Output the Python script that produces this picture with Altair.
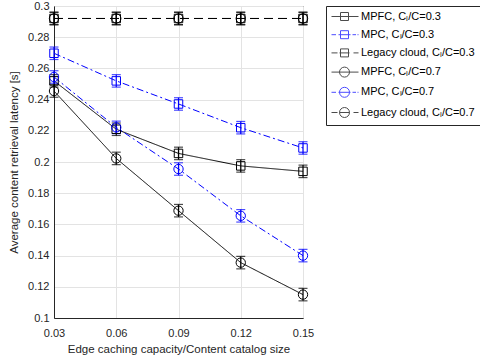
import altair as alt
import pandas as pd

x_vals = [0.03, 0.06, 0.09, 0.12, 0.15]
y_ticks = [0.1, 0.12, 0.14, 0.16, 0.18, 0.2, 0.22, 0.24, 0.26, 0.28, 0.3]
series_names = [
    "MPFC, C\u2097/C=0.3",
    "MPC, C\u2097/C=0.3",
    "Legacy cloud, C\u2097/C=0.3",
    "MPFC, C\u2097/C=0.7",
    "MPC, C\u2097/C=0.7",
    "Legacy cloud, C\u2097/C=0.7",
]
mpfc_03 = [0.252, 0.221, 0.2055, 0.1975, 0.194]
mpc_03 = [0.2697, 0.252, 0.2372, 0.222, 0.209]
legacy_03 = [0.292, 0.292, 0.292, 0.292, 0.292]
mpfc_07 = [0.2455, 0.2023, 0.1688, 0.1355, 0.115]
mpc_07 = [0.2545, 0.2222, 0.1955, 0.1655, 0.140]
legacy_07 = [0.292, 0.292, 0.292, 0.292, 0.292]
series_values = [mpfc_03, mpc_03, legacy_03, mpfc_07, mpc_07, legacy_07]
err_half = [0.004, 0.004, 0.004, 0.004, 0.004, 0.004]

colors = ["#000000", "#0000ff", "#000000", "#000000", "#0000ff", "#000000"]
markers = ["square", "square", "square", "circle", "circle", "circle"]
marker_sizes = [72, 72, 72, 87, 87, 87]
line_styles = ["solid", "dashdot", "dashed", "solid", "dashdot", "dashed"]
style_names = ["solid", "dashdot", "dashed"]
style_dashes = [[1, 0], [7, 3, 2, 3], [9, 5]]

sq = "M0.8,-0.8H2.4V0.8H0.8Z"
ci = "M0.6,0A1,1,0,1,0,2.6,0A1,1,0,1,0,0.6,0Z"
solid = "M-1,0H4.4"
dashdot = "M-1,0H-0.1M0.4,0H2.8M3.2,0H3.9M4.2,0H4.4"
dashed = "M-1,0H0.2M0.6,0H2.6M3.4,0H4.4"
legend_paths = [solid + sq, dashdot + sq, dashed + sq, solid + ci, dashdot + ci, dashed + ci]

rows = []
for name, vals, e, c, m, ms, ls in zip(series_names, series_values, err_half, colors,
                                       markers, marker_sizes, line_styles):
    for xv, yv in zip(x_vals, vals):
        rows.append({"x": xv, "y": yv, "lo": yv - e, "hi": yv + e,
                     "series": name, "col": c, "marker": m, "msize": ms, "style": ls})
df = pd.DataFrame(rows)

FONT = "Liberation Sans"
TXT = "#262626"

xenc = alt.X("x:Q", scale=alt.Scale(domain=[0.03, 0.15], nice=False, zero=False),
             axis=alt.Axis(values=x_vals, tickCount=len(x_vals), format="~g",
                           title="Edge caching capacity/Content catalog size"))
yenc = alt.Y("y:Q", scale=alt.Scale(domain=[0.1, 0.3], nice=False, zero=False),
             axis=alt.Axis(values=y_ticks, tickCount=len(y_ticks),
                           format="~g", title="Average content retrieval latency [s]"))
col_enc = alt.Color("col:N", scale=None)

base = alt.Chart(df)

lines = base.mark_line(strokeWidth=1).encode(
    x=xenc, y=yenc, color=col_enc,
    strokeDash=alt.StrokeDash("style:N", scale=alt.Scale(domain=style_names, range=style_dashes), legend=None),
    detail="series:N",
)
rules = base.mark_rule(strokeWidth=1.2).encode(x=xenc, y=alt.Y("lo:Q"), y2="hi:Q", color=col_enc)
cap_lo = base.mark_tick(thickness=1.2, size=9, orient="horizontal").encode(x=xenc, y=alt.Y("lo:Q"), color=col_enc)
cap_hi = base.mark_tick(thickness=1.2, size=9, orient="horizontal").encode(x=xenc, y=alt.Y("hi:Q"), color=col_enc)
points = base.mark_point(filled=False, strokeWidth=1, opacity=1).encode(
    x=xenc, y=yenc, color=col_enc,
    shape=alt.Shape("marker:N", scale=None),
    size=alt.Size("msize:Q", scale=None),
)

leg_props = dict(title=None, orient="none", legendX=272, legendY=0,
                 strokeColor="#262626", fillColor="white", padding=5,
                 symbolSize=100, symbolStrokeWidth=1, symbolFillColor="transparent",
                 labelOffset=19, rowPadding=5.2, labelFontSize=11, labelFont=FONT,
                 labelColor="#000000", labelLimit=300)
legend_layer = base.mark_point(filled=False).encode(
    x=xenc, y=yenc,
    color=alt.Color("series:N", scale=alt.Scale(domain=series_names, range=colors),
                    legend=alt.Legend(**leg_props)),
    shape=alt.Shape("series:N", scale=alt.Scale(domain=series_names, range=legend_paths),
                    legend=alt.Legend(**leg_props)),
).transform_filter("false")

chart = alt.layer(lines, rules, cap_lo, cap_hi, points, legend_layer).properties(
    width=249, height=312,
    autosize=alt.AutoSizeParams(type="none"),
    padding={"left": 54, "top": 6, "right": 177, "bottom": 46},
).configure_view(
    stroke=TXT, strokeWidth=1
).configure_axis(
    labelFont=FONT, titleFont=FONT, labelFontSize=11, titleFontSize=11.5,
    titleFontWeight="normal", labelColor=TXT, titleColor=TXT,
    domainColor=TXT, gridColor="#e3e3e3", grid=True, ticks=False,
    labelOverlap=False, labelFlush=False,
).configure_axisX(
    labelPadding=9, titlePadding=5,
).configure_axisY(
    labelPadding=5, titlePadding=8,
)

chart.save("out.html", embed_options={"renderer": "svg", "actions": False})
